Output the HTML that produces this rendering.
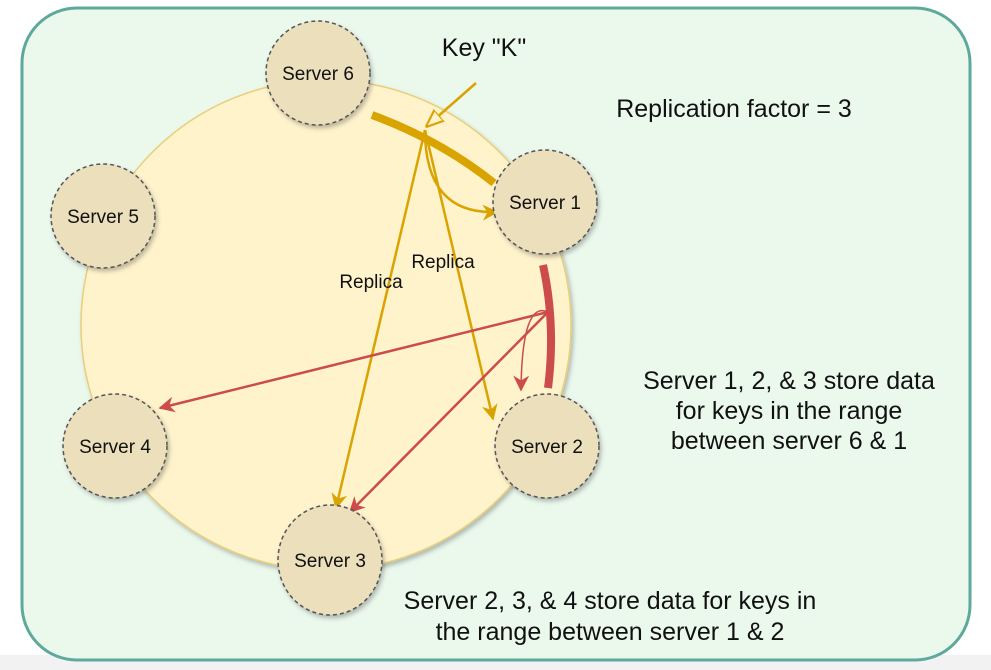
<!DOCTYPE html>
<html><head><meta charset="utf-8"><style>
html,body{margin:0;padding:0;background:#fff;}
svg{display:block;}
text{font-family:"Liberation Sans",Arial,sans-serif;fill:#111;}
</style></head><body>
<svg width="991" height="670" viewBox="0 0 991 670" xmlns="http://www.w3.org/2000/svg">
<defs>
<marker id="ao" viewBox="0 0 10 10" refX="9" refY="5" markerWidth="7" markerHeight="7" orient="auto" markerUnits="userSpaceOnUse"><path d="M0,0 L10,5 L0,10 z" fill="#d9a300"/></marker>
<marker id="ao2" viewBox="0 0 10 10" refX="9" refY="5" markerWidth="16" markerHeight="16" orient="auto" markerUnits="userSpaceOnUse"><path d="M0,0 L10,5 L0,10 L3,5 z" fill="#d9a300"/></marker>
<marker id="ar" viewBox="0 0 10 10" refX="9" refY="5" markerWidth="16" markerHeight="16" orient="auto" markerUnits="userSpaceOnUse"><path d="M0,0 L10,5 L0,10 L3,5 z" fill="#cc4b4b"/></marker>
<marker id="ak" viewBox="0 0 10 10" refX="9" refY="5" markerWidth="18" markerHeight="18" orient="auto" markerUnits="userSpaceOnUse"><path d="M0,1 L10,5 L0,9 z" fill="#fff3cc" stroke="#d9a300" stroke-width="1.2"/></marker>
<filter id="sh"><feDropShadow dx="2" dy="3" stdDeviation="2" flood-color="#000" flood-opacity="0.25"/></filter>
</defs>
<rect x="0" y="655" width="991" height="15" fill="#f2f2f2"/>
<rect x="22" y="8" width="948" height="652" rx="55" fill="#ebf8ec" stroke="#5ea99c" stroke-width="3"/>
<circle cx="326" cy="325" r="245" fill="#fff3cc" stroke="#e8cf7a" stroke-width="1.5" filter="url(#sh)"/>
<path d="M372,115 Q440,140 494,183" fill="none" stroke="#d9a300" stroke-width="8"/>
<path d="M543,265 Q556,325 548,388" fill="none" stroke="#cc4b4b" stroke-width="8"/>
<line x1="476" y1="83" x2="427" y2="126" stroke="#d9a300" stroke-width="2.5" marker-end="url(#ak)"/>
<line x1="425" y1="130" x2="336" y2="508" stroke="#d9a300" stroke-width="2.5" marker-end="url(#ao2)"/>
<line x1="425" y1="130" x2="493" y2="419" stroke="#d9a300" stroke-width="2.5" marker-end="url(#ao2)"/>
<path d="M425,130 Q425,215 497,212" fill="none" stroke="#d9a300" stroke-width="2.5" marker-end="url(#ao2)"/>
<line x1="548" y1="312" x2="160" y2="408" stroke="#cc4b4b" stroke-width="2.5" marker-end="url(#ar)"/>
<line x1="548" y1="312" x2="350" y2="512" stroke="#cc4b4b" stroke-width="2.5" marker-end="url(#ar)"/>
<path d="M548,312 Q522,300 521,390" fill="none" stroke="#cc4b4b" stroke-width="1.5" marker-end="url(#ar)"/>
<g fill="#ebdfbc" stroke="#555" stroke-width="1.5" stroke-dasharray="4,3" filter="url(#sh)">
<circle cx="318" cy="73" r="52"/>
<circle cx="545" cy="202" r="52"/>
<circle cx="103" cy="216" r="52"/>
<circle cx="115" cy="446" r="52"/>
<circle cx="547" cy="446" r="52"/>
<ellipse cx="330" cy="560" rx="52" ry="55"/>
</g>
<g font-size="19" text-anchor="middle">
<text x="318" y="80">Server 6</text>
<text x="545" y="209">Server 1</text>
<text x="103" y="223">Server 5</text>
<text x="115" y="453">Server 4</text>
<text x="547" y="453">Server 2</text>
<text x="330" y="567">Server 3</text>
<text x="443" y="268">Replica</text>
<text x="371" y="288">Replica</text>
</g>
<g font-size="25" text-anchor="middle">
<text x="484" y="56">Key "K"</text>
<text x="734" y="117">Replication factor = 3</text>
<text x="789" y="389">Server 1, 2, &amp; 3 store data</text>
<text x="789" y="419">for keys in the range</text>
<text x="789" y="449">between server 6 &amp; 1</text>
<text x="610" y="609">Server 2, 3, &amp; 4 store data for keys in</text>
<text x="610" y="640">the range between server 1 &amp; 2</text>
</g>
</svg>
</body></html>
